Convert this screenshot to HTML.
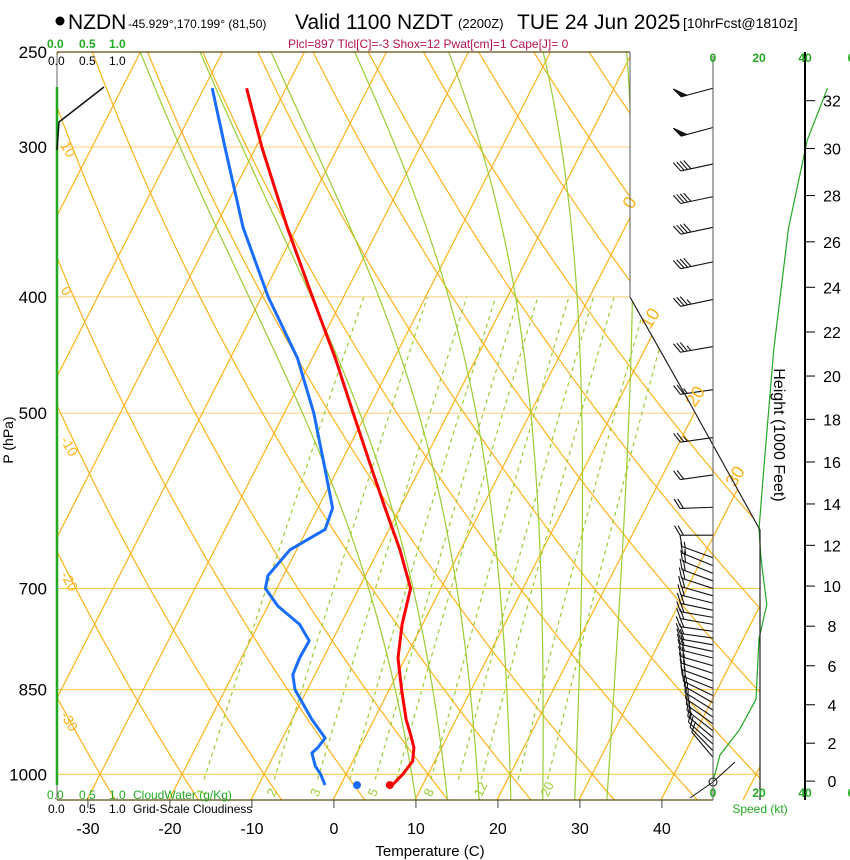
<!DOCTYPE html>
<html><head><meta charset="utf-8">
<style>
body{margin:0;background:#fff;}
svg{display:block;font-family:"Liberation Sans",sans-serif;}
</style></head>
<body>
<svg id="chart" width="850" height="860" viewBox="0 0 850 860" xmlns="http://www.w3.org/2000/svg">
<rect width="850" height="860" fill="#fff"/>
<defs><clipPath id="plotclip"><polygon points="57,52 630,52 630,297 760,530 760,800 57,800"/></clipPath></defs>
<g id="grid" clip-path="url(#plotclip)"></g>
<g id="series"></g>
<g id="axes"></g>
<circle cx="60" cy="21" r="4.5" fill="#000"/>
<text x="68" y="29" font-size="21">NZDN</text>
<text x="128" y="28" font-size="12">-45.929°,170.199° (81,50)</text>
<text x="295" y="29" font-size="21">Valid 1100 NZDT</text>
<text x="458" y="28" font-size="13">(2200Z)</text>
<text x="517" y="29" font-size="21">TUE 24 Jun 2025</text>
<text x="683" y="28" font-size="14">[10hrFcst@1810z]</text>
<text x="288" y="48" font-size="12" fill="#b5124f">Plcl=897 Tlcl[C]=-3 Shox=12 Pwat[cm]=1 Cape[J]= 0</text>
<g font-size="12" font-weight="bold" fill="#22aa22">
<text x="47" y="48">0.0</text><text x="79" y="48">0.5</text><text x="109" y="48">1.0</text></g>
<g font-size="12" fill="#000">
<text x="48" y="65">0.0</text><text x="79" y="65">0.5</text><text x="109" y="65">1.0</text></g>
<g font-size="12" fill="#22aa22">
<text x="47" y="799">0.0</text><text x="79" y="799">0.5</text><text x="109" y="799">1.0</text><text x="133" y="799">CloudWater (g/Kg)</text></g>
<g font-size="12" fill="#000">
<text x="48" y="813">0.0</text><text x="79" y="813">0.5</text><text x="109" y="813">1.0</text><text x="133" y="813">Grid-Scale Cloudiness</text></g>
<text x="430" y="856" font-size="15" text-anchor="middle">Temperature (C)</text>
<text transform="translate(13,440) rotate(-90)" font-size="14" text-anchor="middle">P (hPa)</text>
<text transform="translate(774,435) rotate(90)" font-size="16" text-anchor="middle">Height (1000 Feet)</text>
<text x="760" y="813" font-size="12" fill="#22aa22" text-anchor="middle">Speed (kt)</text>
<script>
// ---- data ----
const tempP=[268,300,350,400,450,500,550,600,650,700,750,800,850,900,925,950,975,1000,1021];
const tempT=[-54.8,-49.3,-41.2,-33.8,-27.2,-21.6,-16.5,-11.8,-7.4,-3.7,-2.5,-0.9,1.5,3.9,5.3,6.6,7.3,6.9,6.3];
const dewP=[268,300,350,400,450,500,550,600,625,650,683,700,724,750,774,800,826,850,900,933,950,960,984,1000,1021];
const dewT=[-59,-53.8,-46.6,-39.2,-31.8,-26.4,-22.1,-18.2,-17.8,-20.8,-21.9,-21.4,-18.8,-15.0,-12.8,-12.9,-12.7,-11.5,-7.6,-4.8,-5.1,-5.5,-4.3,-3.1,-1.9];
const sfcP=[1021];
const sfcT=[6.0];
const sfcTd=[2.0];
const speedP=[1012,993,964,918,866,771,722,662,625,559,443,351,296,268];
const speedKt=[0,1.3,3,11.5,18.7,20,23.4,20.9,20,22,26.4,32.8,41,49.8];
const barbP=[268,289,310,330,350,374,402,440,478,524,563,599,632,660,670,680,690,700,710,720,730,740,750,760,770,780,790,800,812,824,836,848,860,872,884,896,908,920,932,944,956,968];
const barbDir=[255,255,258,258,258,258,258,260,262,262,262,268,270,290,292,292,290,288,286,284,282,280,280,278,278,280,282,284,286,288,290,292,296,300,302,304,306,308,310,312,316,320];
const barbKt=[50,50,40,40,40,40,35,35,25,25,20,20,20,15,15,20,20,20,20,20,20,20,20,20,20,20,20,20,20,20,20,20,15,15,15,15,15,15,15,15,10,10];
const pTicks=[250,300,400,500,700,850,1000];
const tTicks=[-30,-20,-10,0,10,20,30,40];
const hTicks=[0,2,4,6,8,10,12,14,16,18,20,22,24,26,28,30,32];
const mixW=[1,2,3,4,5,6,8,10,12,16,20];
const mixLabels=[1,2,3,5,8,12,20];
const moistT=[8,12,16,20,24,28,32];
// ---- scales ----
const NS='http://www.w3.org/2000/svg';
const yP=p=>52+521*Math.log(p/250);
const xT=(t,p)=>333+8.2*t+0.51*(800-yP(p));
const xSpd=s=>713+2.3*s;
function mk(tag,attrs,parent){const e=document.createElementNS(NS,tag);for(const k in attrs)e.setAttribute(k,attrs[k]);parent.appendChild(e);return e;}
const grid=document.getElementById('grid'),ser=document.getElementById('series'),ax=document.getElementById('axes');
function poly(pts,attrs,parent){return mk('polyline',Object.assign({points:pts.map(q=>q[0].toFixed(1)+','+q[1].toFixed(1)).join(' '),fill:'none'},attrs),parent);}
const OR='#ffb31a';
[300,400,500].forEach(p=>{const l=mk('line',{x1:57,x2:760,y1:yP(p),y2:yP(p),stroke:'#f9cf7a','stroke-width':1},grid);

});
[700,850,1000].forEach(p=>{const l=mk('line',{x1:57,x2:760,y1:yP(p),y2:yP(p),stroke:'#ffc533','stroke-width':1},grid);

});
for(let t=-140;t<=50;t+=10){const l=mk('line',{x1:xT(t,1050),y1:yP(1050),x2:xT(t,250),y2:yP(250),stroke:OR,'stroke-width':1.2},grid);

}
for(let th=-50;th<=200;th+=10){const pts=[];for(let p=1050;p>=250;p-=10){const T=(th+273.15)*Math.pow(p/1000,0.2857)-273.15;pts.push([xT(T,p),yP(p)]);}
const l=poly(pts,{stroke:OR,'stroke-width':1.2},grid);

}
function tdFromW(w,p){const e=w*p/(622+w);const a=Math.log(e/6.112);return 243.5*a/(17.67-a);}
mixW.forEach(w=>{const pts=[];for(let p=1010;p>=400;p-=10)pts.push([xT(tdFromW(w,p),p),yP(p)]);
const l=poly(pts,{stroke:'#9acd32','stroke-width':1.2,'stroke-dasharray':'4,4'},grid);

});
function es(T){return 6.112*Math.exp(17.67*T/(T+243.5));}
const LV=2.5e6*1.05;
function dTdp(T,p){const e=es(T-273.15);const rs=0.622*e/(p-e);return (287*T+LV*rs)/(p*(1004+LV*LV*rs*0.622/(287*T*T)));}
moistT.forEach(t0=>{let T=t0+273.15;const pts=[];
  let p=1000;for(;p<1050;p+=2){T+=dTdp(T,p)*2;}
  for(p=1050;p>=250;p-=2){pts.push([xT(T-273.15,p),yP(p)]);T-=dTdp(T,p)*2;}
  const l=poly(pts,{stroke:'#9acd32','stroke-width':1.2},grid);
  
  });
[[10,145],[0,290],[-10,440],[-20,575],[-30,715]].forEach(a=>{const t=mk('text',{transform:`translate(60,${a[1]}) rotate(60)`,'font-size':14,fill:OR},ax);t.textContent=a[0];

});
[[0,632,210],[10,650,330],[20,695,408],[30,735,488]].forEach(a=>{const t=mk('text',{transform:`translate(${a[1]},${a[2]}) rotate(-58)`,'font-size':18,fill:OR},ax);t.textContent=a[0];

});
mixLabels.forEach(w=>{const t=mk('text',{transform:`translate(${xT(tdFromW(w,1022),1022)+2},${yP(1022)+12}) rotate(-65)`,'font-size':13,fill:'#9acd32'},ax);t.textContent=w;

});
mk('line',{x1:57,y1:52,x2:57,y2:800,stroke:'#666','stroke-width':1},ax);
mk('line',{x1:57,y1:87,x2:57,y2:785,stroke:'#1faa1f','stroke-width':2.5},ax);
mk('line',{x1:57,y1:52,x2:630,y2:52,stroke:'#5a4a10','stroke-width':1.2},ax);
mk('line',{x1:57,y1:800,x2:713,y2:800,stroke:'#5a4a10','stroke-width':1.2},ax);
mk('line',{x1:630,y1:52,x2:630,y2:297,stroke:'#555','stroke-width':1},ax);
poly([[630,297],[687,398],[760,530],[760,800]],{stroke:'#222','stroke-width':1.2},ax);
poly([[104,87],[59,122],[57,150]],{stroke:'#111','stroke-width':1.5},ax);
mk('line',{x1:713,y1:56,x2:713,y2:800,stroke:'#555','stroke-width':1},ax);
mk('line',{x1:805,y1:52,x2:805,y2:800,stroke:'#000','stroke-width':2},ax);
pTicks.forEach(p=>{const t=mk('text',{x:47,y:yP(p)+6,'font-size':17,'text-anchor':'end'},ax);t.textContent=p;

});
tTicks.forEach(v=>{const x=xT(v,1047);mk('line',{x1:x,x2:x,y1:800,y2:808,stroke:'#444'},ax);
const t=mk('text',{x:x,y:834,'font-size':16,'text-anchor':'middle'},ax);t.textContent=v;

});
function pFt(kft){const m=kft*1000*0.3048;return 1013.25*Math.pow(1-2.25577e-5*m,5.25588);}
hTicks.forEach(h=>{const y=yP(pFt(h));mk('line',{x1:805,x2:815,y1:y,y2:y,stroke:'#000','stroke-width':1},ax);
const t=mk('text',{x:832,y:y+6,'font-size':16,'text-anchor':'middle'},ax);t.textContent=h;

});
[0,20,40,60].forEach(s=>{[62,797].forEach(yy=>{const t=mk('text',{x:xSpd(s),y:yy,'font-size':12,'font-weight':'bold',fill:'#22aa22','text-anchor':'middle'},ax);t.textContent=s===60?'6':s;

});});
const sp=poly(speedP.map((p,i)=>[xSpd(speedKt[i]),yP(p)]),{stroke:'#22aa22','stroke-width':1.2},ser);


const tl=poly(tempP.map((p,i)=>[xT(tempT[i],p),yP(p)]),{stroke:'#ff0000','stroke-width':3,'stroke-linejoin':'round'},ser);


const dl=poly(dewP.map((p,i)=>[xT(dewT[i],p),yP(p)]),{stroke:'#1a6eff','stroke-width':3,'stroke-linejoin':'round'},ser);


const td=mk('circle',{cx:xT(sfcT[0],sfcP[0]),cy:yP(sfcP[0]),r:4,fill:'#ff0000'},ser);


const dd=mk('circle',{cx:xT(sfcTd[0],sfcP[0]),cy:yP(sfcP[0]),r:4,fill:'#1a6eff'},ser);


barbP.forEach((p,i)=>{const g=mk('g',{stroke:'#111','stroke-width':1.1,fill:'#111'},ser);


const y=yP(p),x0=713,L=33,r=barbDir[i]*Math.PI/180;const ux=Math.sin(r),uy=-Math.cos(r);
const ex=x0+L*ux,ey=y+L*uy;mk('line',{x1:x0,y1:y,x2:ex,y2:ey},g);
let px=-uy,py=ux;if(py>0){px=-px;py=-py;}
const vx=px*0.87+ux*0.5,vy=py*0.87+uy*0.5;let s=barbKt[i],k=0;
while(s>=50){mk('polygon',{points:`${ex-ux*k*4},${ey-uy*k*4} ${ex-ux*k*4+vx*11},${ey-uy*k*4+vy*11} ${ex-ux*(k*4+6)},${ey-uy*(k*4+6)}`},g);s-=50;k+=2;}
while(s>=10){const bx=ex-ux*k*3.5,by=ey-uy*k*3.5;mk('line',{x1:bx,y1:by,x2:bx+vx*11,y2:by+vy*11},g);s-=10;k++;}
if(s>=5){if(k===0)k=1;const bx=ex-ux*k*3.5,by=ey-uy*k*3.5;mk('line',{x1:bx,y1:by,x2:bx+vx*6,y2:by+vy*6},g);}
});
mk('circle',{cx:713,cy:782,r:4,fill:'none',stroke:'#111'},ser);
poly([[690,798],[713,782],[735,762]],{stroke:'#111','stroke-width':1},ser);
</script>
</svg>
</body></html>
